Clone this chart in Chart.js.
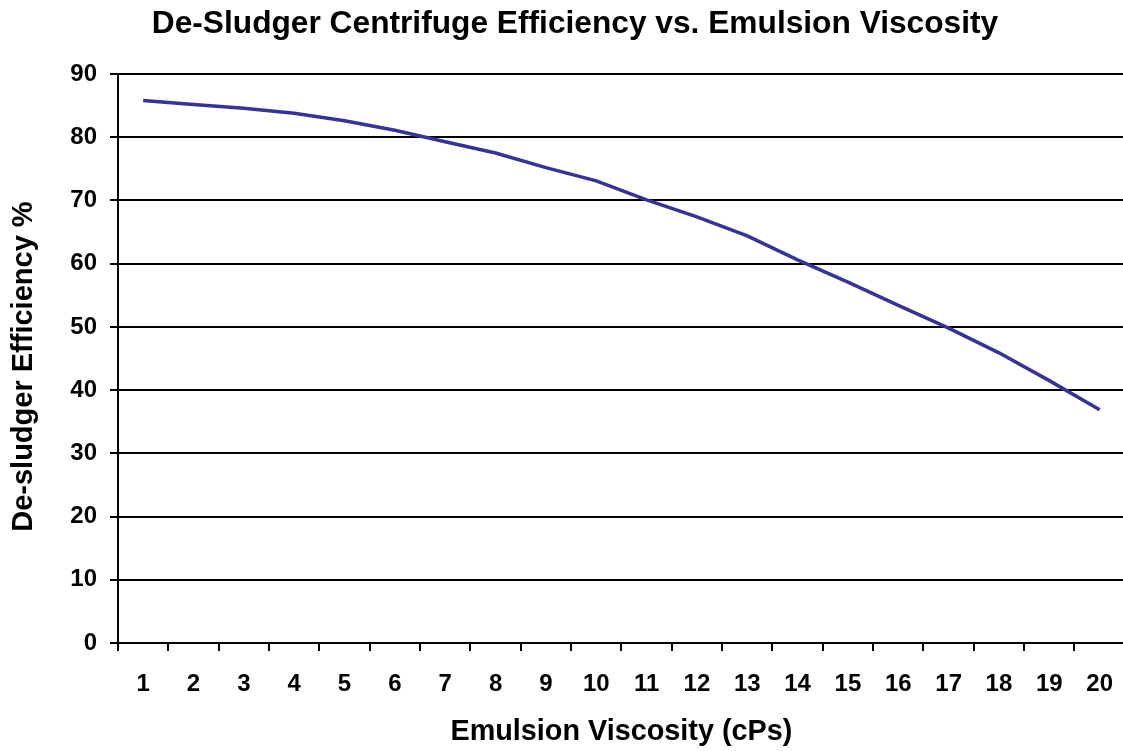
<!DOCTYPE html>
<html>
<head>
<meta charset="utf-8">
<script src="https://cdn.jsdelivr.net/npm/chart.js@4"></script>
<style>
  html, body { margin: 0; padding: 0; background: #fff; overflow: hidden; }
  #wrap { width: 1132px; height: 751px; }
</style>
</head>
<body>
<div id="wrap"><canvas id="effChart"></canvas></div>
<script>
// viscosity categories (cPs)
const viscosity = ['1','2','3','4','5','6','7','8','9','10','11','12','13','14','15','16','17','18','19','20'];
// de-sludger efficiency %
const efficiency = [85.8, 85.2, 84.6, 83.8, 82.6, 81.1, 79.3, 77.5, 75.2, 73.1,
                    70.1, 67.4, 64.4, 60.6, 57.1, 53.4, 49.8, 45.9, 41.5, 36.9];
const yTicks = [0, 10, 20, 30, 40, 50, 60, 70, 80, 90];

const FONT = "'Liberation Sans', Arial, sans-serif";

const ctx = document.getElementById('effChart').getContext('2d');
new Chart(ctx, {
    type: 'line',
    data: {
        labels: viscosity,
        datasets: [{
            label: 'Efficiency',
            data: efficiency,
            borderColor: '#333399',
            borderWidth: 3.5,
            pointRadius: 0,
            tension: 0,
            fill: false
        }]
    },
    options: {
        responsive: true,
        maintainAspectRatio: false,
        animation: false,
        // left padding only moves the title centre to match the original
        layout: { padding: { left: 18, right: 0, top: 0, bottom: 0 } },
        plugins: {
            legend: { display: false },
            tooltip: { enabled: false },
            title: {
                display: true,
                text: 'De-Sludger Centrifuge Efficiency vs. Emulsion Viscosity',
                color: '#000',
                font: { family: FONT, size: 31.7, weight: 'bold' },
                padding: { top: 5, bottom: 31 }
            }
        },
        scales: {
            x: {
                offset: true,
                grid: {
                    offset: true,
                    drawOnChartArea: false,
                    color: '#000',
                    lineWidth: 2,
                    tickLength: 8
                },
                border: { color: '#000', width: 2 },
                ticks: {
                    color: '#000',
                    font: { family: FONT, size: 24, weight: 'bold' },
                    padding: 19,
                    maxRotation: 0,
                    autoSkip: false
                },
                title: {
                    display: true,
                    text: 'Emulsion Viscosity (cPs)',
                    color: '#000',
                    font: { family: FONT, size: 28.8, weight: 'bold' },
                    padding: { top: 10, bottom: 2 }
                },
                afterFit: function(scale) { scale.height = 108; }
            },
            y: {
                min: 0,
                max: 90,
                afterBuildTicks: function(scale) {
                    scale.ticks = yTicks.map(v => ({ value: v }));
                },
                grid: {
                    color: '#000',
                    lineWidth: 2,
                    tickLength: 8
                },
                border: { color: '#000', width: 2 },
                ticks: {
                    color: '#000',
                    font: { family: FONT, size: 24, weight: 'bold' },
                    padding: 13
                },
                title: {
                    display: true,
                    // trailing spaces nudge the text a little below centre, as in the original
                    text: 'De-sludger Efficiency %  ',
                    color: '#000',
                    font: { family: FONT, size: 29, weight: 'bold' },
                    padding: { top: -11.4, bottom: 0 }
                },
                afterFit: function(scale) { scale.width = 100; }
            }
        }
    }
});
</script>
</body>
</html>
